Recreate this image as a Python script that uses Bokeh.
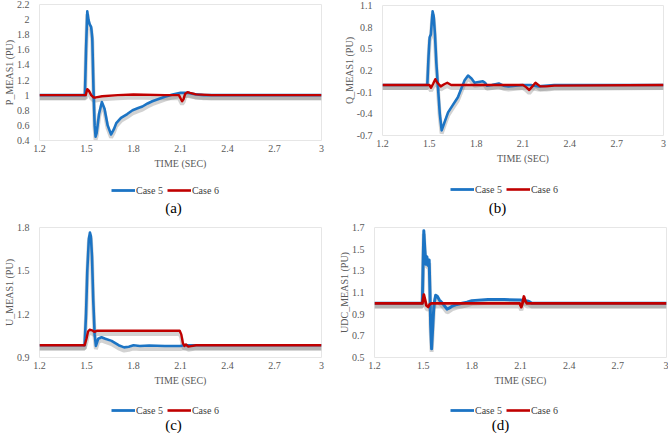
from bokeh.plotting import figure
from bokeh.layouts import row, column
from bokeh.models import FixedTicker, Legend, LegendItem, Label, Range1d, ColumnDataSource
from bokeh.transform import dodge
from bokeh.embed import file_html
from bokeh.resources import INLINE

# ---------------- data ----------------
x_ticks = [1.2, 1.5, 1.8, 2.1, 2.4, 2.7, 3.0]
x_tick_labels = ["1.2", "1.5", "1.8", "2.1", "2.4", "2.7", "3"]

# (a) P_MEAS1
a_c5_t = [1.2, 1.49, 1.497, 1.505, 1.512, 1.52, 1.53, 1.537, 1.545, 1.552, 1.558, 1.565, 1.58, 1.598,
          1.615, 1.635, 1.657, 1.675, 1.69, 1.72, 1.76, 1.794, 1.83, 1.857, 1.89, 1.92, 1.96, 2.0,
          2.05, 2.1, 2.15, 2.2, 2.25, 3.0]
a_c5_v = [1.0, 1.0, 1.6, 2.11, 2.0, 1.94, 1.9, 1.75, 1.05, 0.6, 0.45, 0.5, 0.75, 0.91,
          0.82, 0.6, 0.48, 0.55, 0.63, 0.7, 0.75, 0.8, 0.83, 0.85, 0.89, 0.92, 0.95, 0.98,
          1.01, 1.03, 1.03, 1.01, 1.0, 1.0]
a_c6_t = [1.2, 1.495, 1.505, 1.515, 1.53, 1.545, 1.56, 1.6, 1.7, 1.8, 2.0, 2.09, 2.1, 2.11, 2.12,
          2.13, 2.145, 2.16, 2.2, 2.3, 3.0]
a_c6_v = [1.0, 1.0, 1.08, 1.06, 1.0, 0.97, 0.97, 0.985, 1.0, 1.008, 1.0, 1.0, 0.96, 0.92, 0.95,
          1.02, 1.04, 1.03, 1.01, 1.0, 1.0]
a_y_ticks = [0.4, 0.6, 0.8, 1.0, 1.2, 1.4, 1.6, 1.8, 2.0, 2.2]
a_y_labels = ["0.4", "0.6", "0.8", "1", "1.2", "1.4", "1.6", "1.8", "2", "2.2"]

# (b) Q_MEAS1
b_c5_t = [1.2, 1.487, 1.495, 1.502, 1.51, 1.516, 1.521, 1.528, 1.536, 1.545, 1.556, 1.567, 1.579,
          1.6, 1.62, 1.65, 1.683, 1.705, 1.725, 1.748, 1.77, 1.79, 1.815, 1.843, 1.857, 1.87, 1.9,
          1.945, 1.975, 2.007, 2.05, 2.1, 2.15, 2.2, 2.3, 3.0]
b_c5_v = [0.0, 0.0, 0.4, 0.66, 0.70, 0.88, 1.02, 0.95, 0.7, 0.3, -0.05, -0.4, -0.63,
          -0.5, -0.38, -0.28, -0.17, -0.05, 0.06, 0.13, 0.09, 0.03, 0.04, 0.05, 0.03, -0.01, 0.0,
          0.02, -0.01, -0.02, -0.01, 0.0, 0.0, -0.02, 0.0, 0.0]
b_c6_t = [1.2, 1.5, 1.511, 1.525, 1.538, 1.552, 1.573, 1.595, 1.615, 1.64, 2.1, 2.12, 2.14, 2.16,
          2.18, 2.21, 2.25, 2.3, 3.0]
b_c6_v = [0.0, 0.0, -0.04, 0.02, 0.08, 0.03, -0.02, 0.01, 0.03, 0.0, 0.0, -0.03, -0.07, -0.02,
          0.03, -0.02, -0.02, -0.01, 0.0]
b_y_ticks = [-0.7, -0.4, -0.1, 0.2, 0.5, 0.8, 1.1]
b_y_labels = ["-0.7", "-0.4", "-0.1", "0.2", "0.5", "0.8", "1.1"]

# (c) U_MEAS1
c_c5_t = [1.2, 1.488, 1.497, 1.505, 1.515, 1.522, 1.528, 1.535, 1.543, 1.552, 1.56, 1.566, 1.575,
          1.596, 1.62, 1.66, 1.705, 1.74, 1.77, 1.8, 1.84, 1.9, 2.0, 2.1, 2.12, 2.2, 3.0]
c_c5_v = [0.985, 0.985, 1.2, 1.5, 1.72, 1.765, 1.74, 1.6, 1.3, 1.06, 0.98, 1.0, 1.03,
          1.04, 1.03, 1.015, 0.985, 0.97, 0.975, 0.985, 0.98, 0.983, 0.98, 0.98, 0.985, 0.985, 0.985]
c_c6_t = [1.2, 1.488, 1.5, 1.51, 1.52, 1.535, 1.55, 1.565, 1.6, 2.095, 2.105, 2.115, 2.125, 2.135,
          2.15, 2.2, 3.0]
c_c6_v = [0.985, 0.985, 1.03, 1.08, 1.092, 1.088, 1.078, 1.085, 1.085, 1.085, 1.06, 1.0, 0.98, 0.99,
          0.975, 0.985, 0.985]
c_y_ticks = [0.9, 1.2, 1.5, 1.8]
c_y_labels = ["0.9", "1.2", "1.5", "1.8"]

# (d) UDC_MEAS1
d_c5_t = [1.2, 1.495, 1.5, 1.504, 1.51, 1.517, 1.523, 1.53, 1.537, 1.542, 1.546, 1.552, 1.558,
          1.565, 1.57, 1.577, 1.587, 1.6, 1.62, 1.647, 1.66, 1.68, 1.708, 1.74, 1.77, 1.8, 1.9,
          2.0, 2.1, 2.15, 2.17, 3.0]
d_c5_v = [1.0, 1.0, 1.4, 1.67, 1.5, 1.36, 1.43, 1.35, 1.4, 1.1, 0.8, 0.58, 0.75,
          0.95, 1.02, 1.075, 1.065, 1.03, 1.0, 0.946, 0.955, 0.975, 0.99, 1.0, 1.01, 1.025, 1.035,
          1.035, 1.03, 1.02, 1.0, 1.0]
d_c6_t = [1.2, 1.495, 1.504, 1.512, 1.52, 1.531, 1.54, 1.55, 1.6, 2.095, 2.105, 2.112, 2.121,
          2.13, 2.14, 3.0]
d_c6_v = [1.0, 1.0, 1.08, 1.03, 0.98, 0.967, 0.99, 1.0, 1.0, 1.0, 0.965, 1.0, 1.063,
          1.02, 1.0, 1.0]
d_y_ticks = [0.5, 0.7, 0.9, 1.1, 1.3, 1.5, 1.7]
d_y_labels = ["0.5", "0.7", "0.9", "1.1", "1.3", "1.5", "1.7"]

series_names = ["Case 5", "Case 6"]

# ---------------- style ----------------
BLUE = "#1c74c4"
RED = "#c00000"
FONT = "Liberation Serif"
TXT = "#595959"
W = 334
MAIN_H = 172


def panel(ylabel, caption, c5, c6, yticks, ylabels, borders, shadow_dy,
          strip_h, leg_cx, leg_y, cap_x, cap_y, lw=2.6):
    left, right, top, bottom = borders
    p = figure(width=W, height=MAIN_H, output_backend="svg", toolbar_location=None,
               x_range=Range1d(1.2, 3.0), y_range=Range1d(yticks[0], yticks[-1]),
               min_border_left=left, min_border_right=right,
               min_border_top=top, min_border_bottom=bottom)
    p.outline_line_color = "#e6e6e6"
    p.grid.visible = False
    p.border_fill_color = "white"
    for ax in (p.xaxis[0], p.yaxis[0]):
        ax.axis_line_color = None
        ax.major_tick_line_color = None
        ax.minor_tick_line_color = None
        ax.major_label_text_font = FONT
        ax.major_label_text_font_size = "10px"
        ax.major_label_text_color = TXT
        ax.axis_label_text_font = FONT
        ax.axis_label_text_font_size = "10px"
        ax.axis_label_text_color = TXT
        ax.axis_label_text_font_style = "normal"
    p.xaxis.ticker = FixedTicker(ticks=x_ticks)
    p.xaxis.major_label_overrides = dict(zip(x_ticks, x_tick_labels))
    p.yaxis.ticker = FixedTicker(ticks=yticks)
    p.yaxis.major_label_overrides = dict(zip(yticks, ylabels))
    p.xaxis.axis_label = "TIME (SEC)"
    p.yaxis.axis_label = ylabel
    p.xaxis.major_label_standoff = -2
    p.xaxis.axis_label_standoff = 3
    p.yaxis.major_label_standoff = 4
    p.yaxis.axis_label_standoff = -1

    s5 = ColumnDataSource(dict(t=c5[0], v=c5[1]))
    s6 = ColumnDataSource(dict(t=c6[0], v=c6[1]))
    for s in (s5, s6):
        p.line("t", dodge("v", -shadow_dy), source=s, line_color="#7f7f7f",
               line_alpha=0.35, line_width=4)
    p.line("t", "v", source=s5, line_color=BLUE, line_width=lw, line_join="round")
    p.line("t", "v", source=s6, line_color=RED, line_width=lw - 0.2, line_join="round")

    # legend + caption strip under the chart (its frame is aligned with the chart's frame)
    q = figure(width=W, height=strip_h, output_backend="svg", toolbar_location=None,
               x_range=Range1d(10, 11), y_range=Range1d(10, 11),
               x_axis_type=None, y_axis_type=None,
               min_border=0, min_border_left=0, min_border_right=0,
               min_border_top=0, min_border_bottom=0)
    q.grid.visible = False
    q.outline_line_color = None
    q.border_fill_color = "white"
    q5 = q.line("t", "v", source=s5, line_color=BLUE, line_width=2.8)
    q6 = q.line("t", "v", source=s6, line_color=RED, line_width=2.6)
    legw = 108
    legend = Legend(items=[LegendItem(label=series_names[0], renderers=[q5]),
                           LegendItem(label=series_names[1], renderers=[q6])],
                    orientation="horizontal",
                    location=(leg_cx - left - legw / 2, strip_h - leg_y - 6),
                    label_text_font=FONT, label_text_font_size="10px",
                    label_text_color="#404040", glyph_width=24, glyph_height=12,
                    label_height=12, label_standoff=1, spacing=4,
                    padding=0, margin=0, border_line_color=None,
                    background_fill_alpha=0)
    q.add_layout(legend, "center")
    q.add_layout(Label(x=cap_x - left, y=strip_h - cap_y, x_units="screen", y_units="screen",
                       text=caption, text_align="center", text_baseline="middle",
                       text_font=FONT, text_font_size="15px", text_color="black"))
    return column(p, q, spacing=0)


pa = panel("P_MEAS1 (PU)", "(a)", (a_c5_t, a_c5_v), (a_c6_t, a_c6_v),
           a_y_ticks, a_y_labels, (36, 13, 4, 32), 0.04, 45, 162, 18, 170, 35)
pb = panel("Q_MEAS1 (PU)", "(b)", (b_c5_t, b_c5_v), (b_c6_t, b_c6_v),
           b_y_ticks, b_y_labels, (48, 5, 5, 37), 0.043, 45, 170, 17, 163, 35)
pc = panel("U_MEAS1 (PU)", "(c)", (c_c5_t, c_c5_v), (c_c6_t, c_c6_v),
           c_y_ticks, c_y_labels, (36, 13, 10, 32), 0.022, 44, 162, 21, 170, 35.5)
pd = panel("UDC_MEAS1 (PU)", "(d)", (d_c5_t, d_c5_v), (d_c6_t, d_c6_v),
           d_y_ticks, d_y_labels, (40, 2, 10, 32), 0.029, 44, 170, 21, 166, 35, lw=3.0)

layout = column(row(pa, pb, spacing=0), row(pc, pd, spacing=0), spacing=0)

open("out.html", "w").write(file_html(layout, INLINE))
